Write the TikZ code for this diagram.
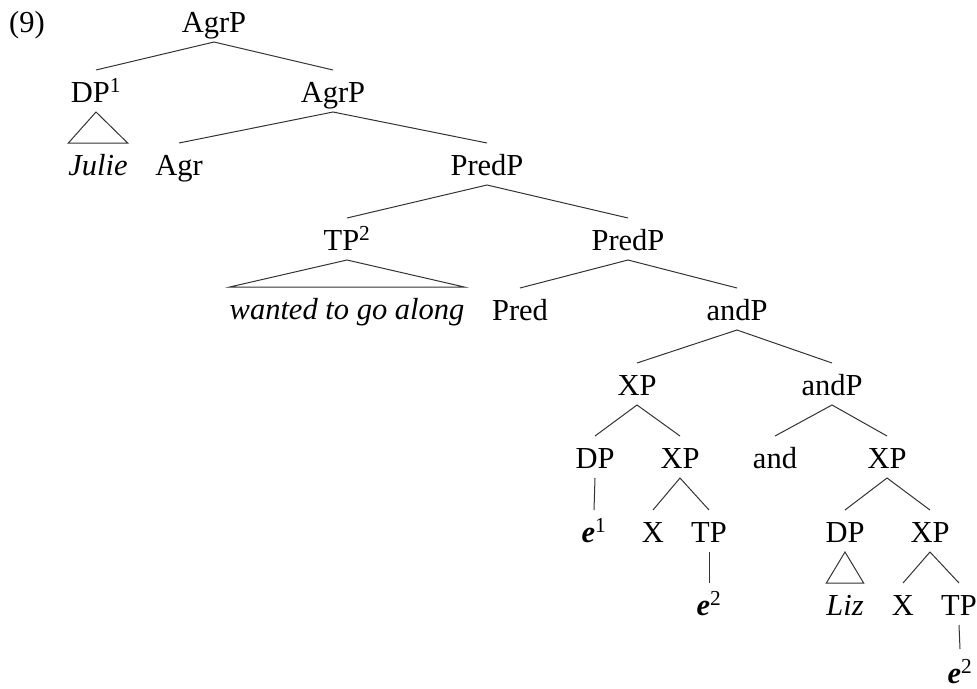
\documentclass[tikz,border=0pt]{standalone}
\usepackage{fontspec}
\setmainfont{Liberation Serif}
\begin{document}
\begin{tikzpicture}[x=1pt,y=-1pt,
  lab/.style={inner xsep=0pt, inner ysep=0pt, outer xsep=0pt, outer ysep=6pt,
    text height=26pt, text depth=4pt, anchor=base,
    font=\fontsize{30.5}{36}\selectfont},
  br/.style={draw=black!80, line width=1pt}]
\useasboundingbox (0,0) rectangle (977,688);
% row 1
\node[lab] (num) at (27,32) {(9)};
\node[lab] (agrp) at (214,32) {AgrP};
% row 2
\node[lab] (dp1) at (96,102) {DP\textsuperscript{1}};
\node[lab] (agrp2) at (333,102) {AgrP};
% row 3
\node[lab] (julie) at (98,175) {\textit{Julie}};
\node[lab] (agr) at (179,175) {Agr};
\node[lab] (predp) at (487,175) {PredP};
% row 4
\node[lab] (tp2) at (347,250) {TP\textsuperscript{2}};
\node[lab] (predp2) at (628,250) {PredP};
% row 5
\node[lab] (wanted) at (347,319) {\textit{wanted to go along}};
\node[lab] (pred) at (520,320) {Pred};
\node[lab] (andp) at (737,320) {andP};
% row 6
\node[lab] (xp) at (637,395) {XP};
\node[lab] (andp2) at (832,395) {andP};
% row 7
\node[lab] (dp) at (595,468) {DP};
\node[lab] (xp2) at (680,468) {XP};
\node[lab] (and) at (775,468) {and};
\node[lab] (xp3) at (887,468) {XP};
% row 8
\node[lab] (e1) at (594,542) {\textbf{\textit{e}}\textsuperscript{1}};
\node[lab] (x1) at (653,542) {X};
\node[lab] (tp) at (709,542) {TP};
\node[lab] (dp2) at (845,542) {DP};
\node[lab] (xp4) at (930,542) {XP};
% row 9
\node[lab] (e2) at (709,615) {\textbf{\textit{e}}\textsuperscript{2}};
\node[lab] (liz) at (845,615) {\textit{Liz}};
\node[lab] (x2) at (903,615) {X};
\node[lab] (tp3) at (959,615) {TP};
% row 10
\node[lab] (e3) at (960,683) {\textbf{\textit{e}}\textsuperscript{2}};
% branches
\draw[br] (dp1.north) -- (agrp.south) -- (agrp2.north);
\draw[br] (agr.north) -- (agrp2.south) -- (predp.north);
\draw[br] (tp2.north) -- (predp.south) -- (predp2.north);
\draw[br] (pred.north) -- (predp2.south) -- (andp.north);
\draw[br] (xp.north) -- (andp.south) -- (andp2.north);
\draw[br] (dp.north) -- (xp.south) -- (xp2.north);
\draw[br] (and.north) -- (andp2.south) -- (xp3.north);
\draw[br] (x1.north) -- (xp2.south) -- (tp.north);
\draw[br] (dp2.north) -- (xp3.south) -- (xp4.north);
\draw[br] (x2.north) -- (xp4.south) -- (tp3.north);
\draw[br] (dp.south) -- (e1.north);
\draw[br] (tp.south) -- (e2.north);
\draw[br] (tp3.south) -- ([yshift=2pt]e3.north);
% triangles
\draw[br] (dp1.south) -- (julie.north east) -- (julie.north west) -- cycle;
\draw[br] (tp2.south) -- (wanted.north east) -- (wanted.north west) -- cycle;
\draw[br] (dp2.south) -- (liz.north east) -- (liz.north west) -- cycle;
\end{tikzpicture}
\end{document}
